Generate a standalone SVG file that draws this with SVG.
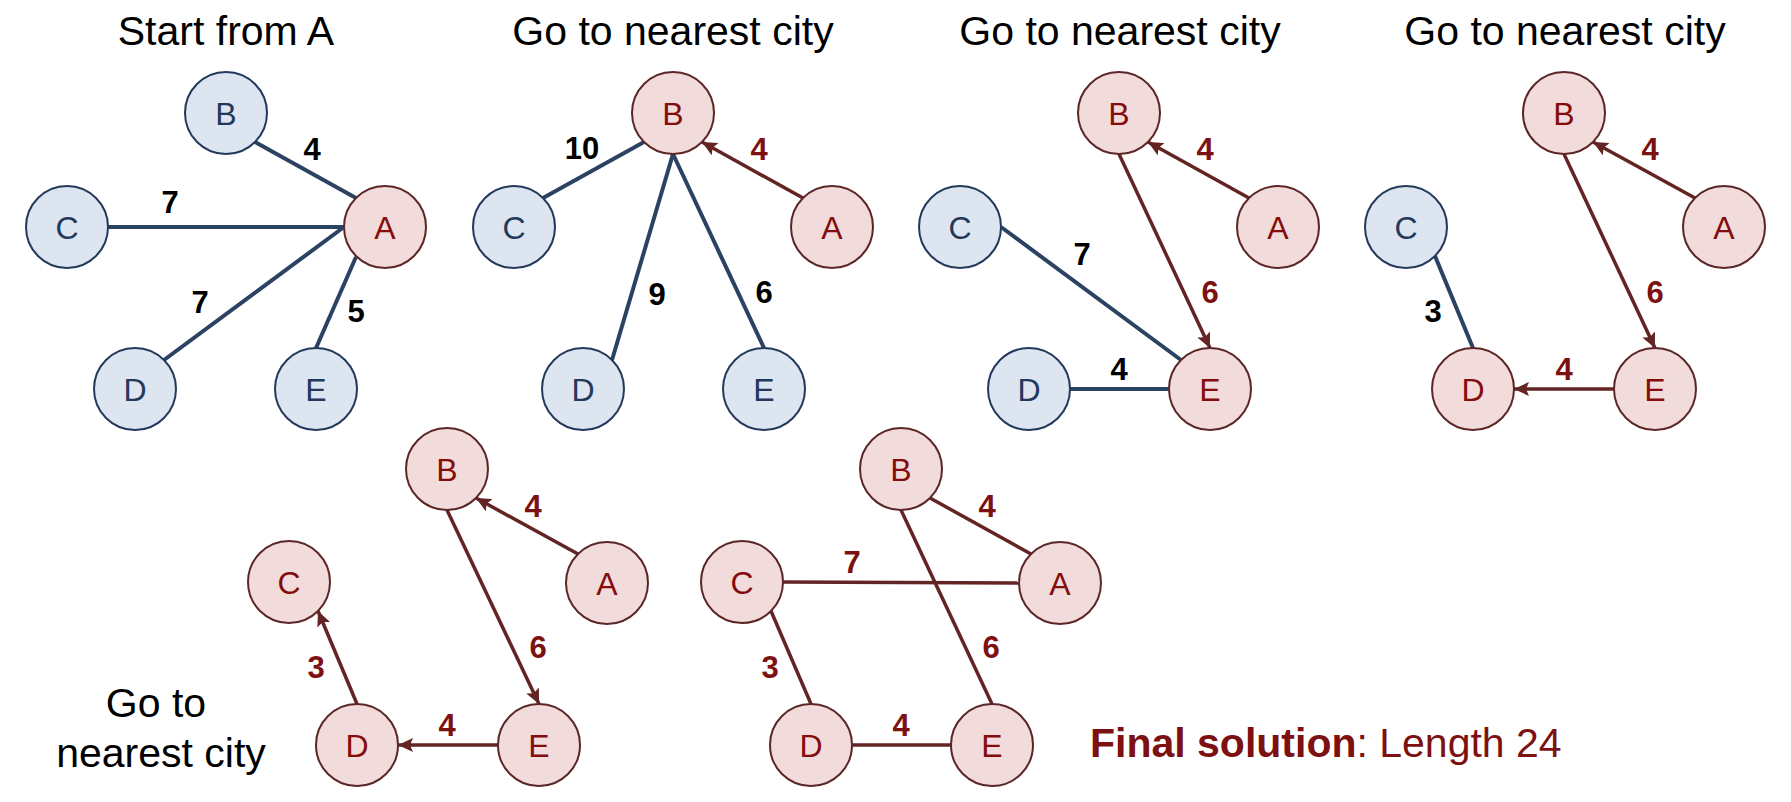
<svg xmlns="http://www.w3.org/2000/svg" width="1791" height="802" viewBox="0 0 1791 802">
<style>
text{font-family:"Liberation Sans",Arial,sans-serif}
.title{font-size:41px;fill:#000;text-anchor:middle}
.nb circle{fill:#dde6f0;stroke:#23395b;stroke-width:2}
.nr circle{fill:#f2dcdb;stroke:#5c2626;stroke-width:2}
.nb text{fill:#23395b;font-size:32px;text-anchor:middle}
.nr text{fill:#850c0c;font-size:32px;text-anchor:middle}
.eb{stroke:#2b4263;stroke-width:4;fill:none}
.er{stroke:#632523;stroke-width:3.5;fill:none}
.ea{stroke:#632523;stroke-width:3.5;fill:none;marker-end:url(#arr)}
.lb{font-size:31px;font-weight:bold;fill:#000;text-anchor:middle}
.lr{font-size:31px;font-weight:bold;fill:#7d1010;text-anchor:middle}
.fin{font-size:41px;fill:#7d1010}
</style>
<defs>
<marker id="arr" markerUnits="userSpaceOnUse" markerWidth="16" markerHeight="14" refX="15" refY="7" orient="auto">
<path d="M0,0 L15,7 L0,14 L3,7 z" fill="#632523"/>
</marker>
</defs>
<rect width="1791" height="802" fill="#fff"/>

<g id="titles">
<text class="title" x="226" y="45">Start from A</text>
<text class="title" x="673" y="45">Go to nearest city</text>
<text class="title" x="1120" y="45">Go to nearest city</text>
<text class="title" x="1565" y="45">Go to nearest city</text>
<text class="title" x="156" y="717">Go to</text>
<text class="title" x="161" y="767">nearest city</text>
<text class="fin" x="1090" y="757"><tspan font-weight="bold">Final solution</tspan>: Length 24</text>
</g>

<g id="connectors">
<!-- panel 1 -->
<line class="eb" x1="255" y1="142" x2="356" y2="198"/>
<line class="eb" x1="108" y1="227" x2="344" y2="227"/>
<line class="eb" x1="164" y1="360" x2="344" y2="227"/>
<line class="eb" x1="316" y1="348" x2="356" y2="257"/>
<!-- panel 2 -->
<line class="eb" x1="644" y1="142" x2="543" y2="198"/>
<line class="eb" x1="673" y1="154" x2="612" y2="360"/>
<line class="eb" x1="673" y1="154" x2="764" y2="348"/>
<line class="ea" x1="803" y1="198" x2="702" y2="142"/>
<!-- panel 3 -->
<line class="ea" x1="1249" y1="198" x2="1148" y2="142"/>
<line class="ea" x1="1119" y1="154" x2="1210" y2="348"/>
<line class="eb" x1="1001" y1="227" x2="1181" y2="360"/>
<line class="eb" x1="1070" y1="389" x2="1169" y2="389"/>
<!-- panel 4 -->
<line class="ea" x1="1695" y1="198" x2="1593" y2="142"/>
<line class="ea" x1="1564" y1="154" x2="1655" y2="348"/>
<line class="eb" x1="1435" y1="256" x2="1473" y2="348"/>
<line class="ea" x1="1614" y1="389" x2="1514" y2="389"/>
<!-- panel 5 -->
<line class="ea" x1="578" y1="554" x2="476" y2="498"/>
<line class="ea" x1="447" y1="510" x2="539" y2="704"/>
<line class="ea" x1="357" y1="704" x2="318" y2="611"/>
<line class="ea" x1="498" y1="745" x2="398" y2="745"/>
<!-- panel 6 -->
<line class="er" x1="930" y1="498" x2="1031" y2="554"/>
<line class="er" x1="783" y1="582" x2="1019" y2="583"/>
<line class="er" x1="901" y1="510" x2="992" y2="704"/>
<line class="er" x1="771" y1="611" x2="811" y2="704"/>
<line class="er" x1="852" y1="745" x2="951" y2="745"/>
</g>

<g id="edge-labels">
<text class="lb" x="312" y="160">4</text>
<text class="lb" x="170" y="213">7</text>
<text class="lb" x="200" y="313">7</text>
<text class="lb" x="356" y="322">5</text>
<text class="lb" x="582" y="159">10</text>
<text class="lb" x="657" y="305">9</text>
<text class="lb" x="764" y="303">6</text>
<text class="lr" x="759" y="160">4</text>
<text class="lr" x="1205" y="160">4</text>
<text class="lr" x="1210" y="303">6</text>
<text class="lb" x="1082" y="265">7</text>
<text class="lb" x="1119" y="380">4</text>
<text class="lr" x="1650" y="160">4</text>
<text class="lr" x="1655" y="303">6</text>
<text class="lb" x="1433" y="322">3</text>
<text class="lr" x="1564" y="380">4</text>
<text class="lr" x="533" y="517">4</text>
<text class="lr" x="538" y="658">6</text>
<text class="lr" x="316" y="678">3</text>
<text class="lr" x="447" y="736">4</text>
<text class="lr" x="987" y="517">4</text>
<text class="lr" x="852" y="573">7</text>
<text class="lr" x="991" y="658">6</text>
<text class="lr" x="770" y="678">3</text>
<text class="lr" x="901" y="736">4</text>
</g>

<!-- panel 1 nodes -->
<g id="p1-B" class="nb"><circle cx="226" cy="113" r="41"/><text x="226" y="125">B</text></g>
<g id="p1-C" class="nb"><circle cx="67" cy="227" r="41"/><text x="67" y="239">C</text></g>
<g id="p1-A" class="nr"><circle cx="385" cy="227" r="41"/><text x="385" y="239">A</text></g>
<g id="p1-D" class="nb"><circle cx="135" cy="389" r="41"/><text x="135" y="401">D</text></g>
<g id="p1-E" class="nb"><circle cx="316" cy="389" r="41"/><text x="316" y="401">E</text></g>
<!-- panel 2 nodes -->
<g id="p2-B" class="nr"><circle cx="673" cy="113" r="41"/><text x="673" y="125">B</text></g>
<g id="p2-C" class="nb"><circle cx="514" cy="227" r="41"/><text x="514" y="239">C</text></g>
<g id="p2-A" class="nr"><circle cx="832" cy="227" r="41"/><text x="832" y="239">A</text></g>
<g id="p2-D" class="nb"><circle cx="583" cy="389" r="41"/><text x="583" y="401">D</text></g>
<g id="p2-E" class="nb"><circle cx="764" cy="389" r="41"/><text x="764" y="401">E</text></g>
<!-- panel 3 nodes -->
<g id="p3-B" class="nr"><circle cx="1119" cy="113" r="41"/><text x="1119" y="125">B</text></g>
<g id="p3-C" class="nb"><circle cx="960" cy="227" r="41"/><text x="960" y="239">C</text></g>
<g id="p3-A" class="nr"><circle cx="1278" cy="227" r="41"/><text x="1278" y="239">A</text></g>
<g id="p3-D" class="nb"><circle cx="1029" cy="389" r="41"/><text x="1029" y="401">D</text></g>
<g id="p3-E" class="nr"><circle cx="1210" cy="389" r="41"/><text x="1210" y="401">E</text></g>
<!-- panel 4 nodes -->
<g id="p4-B" class="nr"><circle cx="1564" cy="113" r="41"/><text x="1564" y="125">B</text></g>
<g id="p4-C" class="nb"><circle cx="1406" cy="227" r="41"/><text x="1406" y="239">C</text></g>
<g id="p4-A" class="nr"><circle cx="1724" cy="227" r="41"/><text x="1724" y="239">A</text></g>
<g id="p4-D" class="nr"><circle cx="1473" cy="389" r="41"/><text x="1473" y="401">D</text></g>
<g id="p4-E" class="nr"><circle cx="1655" cy="389" r="41"/><text x="1655" y="401">E</text></g>
<!-- panel 5 nodes -->
<g id="p5-B" class="nr"><circle cx="447" cy="469" r="41"/><text x="447" y="481">B</text></g>
<g id="p5-C" class="nr"><circle cx="289" cy="582" r="41"/><text x="289" y="594">C</text></g>
<g id="p5-A" class="nr"><circle cx="607" cy="583" r="41"/><text x="607" y="595">A</text></g>
<g id="p5-D" class="nr"><circle cx="357" cy="745" r="41"/><text x="357" y="757">D</text></g>
<g id="p5-E" class="nr"><circle cx="539" cy="745" r="41"/><text x="539" y="757">E</text></g>
<!-- panel 6 nodes -->
<g id="p6-B" class="nr"><circle cx="901" cy="469" r="41"/><text x="901" y="481">B</text></g>
<g id="p6-C" class="nr"><circle cx="742" cy="582" r="41"/><text x="742" y="594">C</text></g>
<g id="p6-A" class="nr"><circle cx="1060" cy="583" r="41"/><text x="1060" y="595">A</text></g>
<g id="p6-D" class="nr"><circle cx="811" cy="745" r="41"/><text x="811" y="757">D</text></g>
<g id="p6-E" class="nr"><circle cx="992" cy="745" r="41"/><text x="992" y="757">E</text></g>
</svg>
